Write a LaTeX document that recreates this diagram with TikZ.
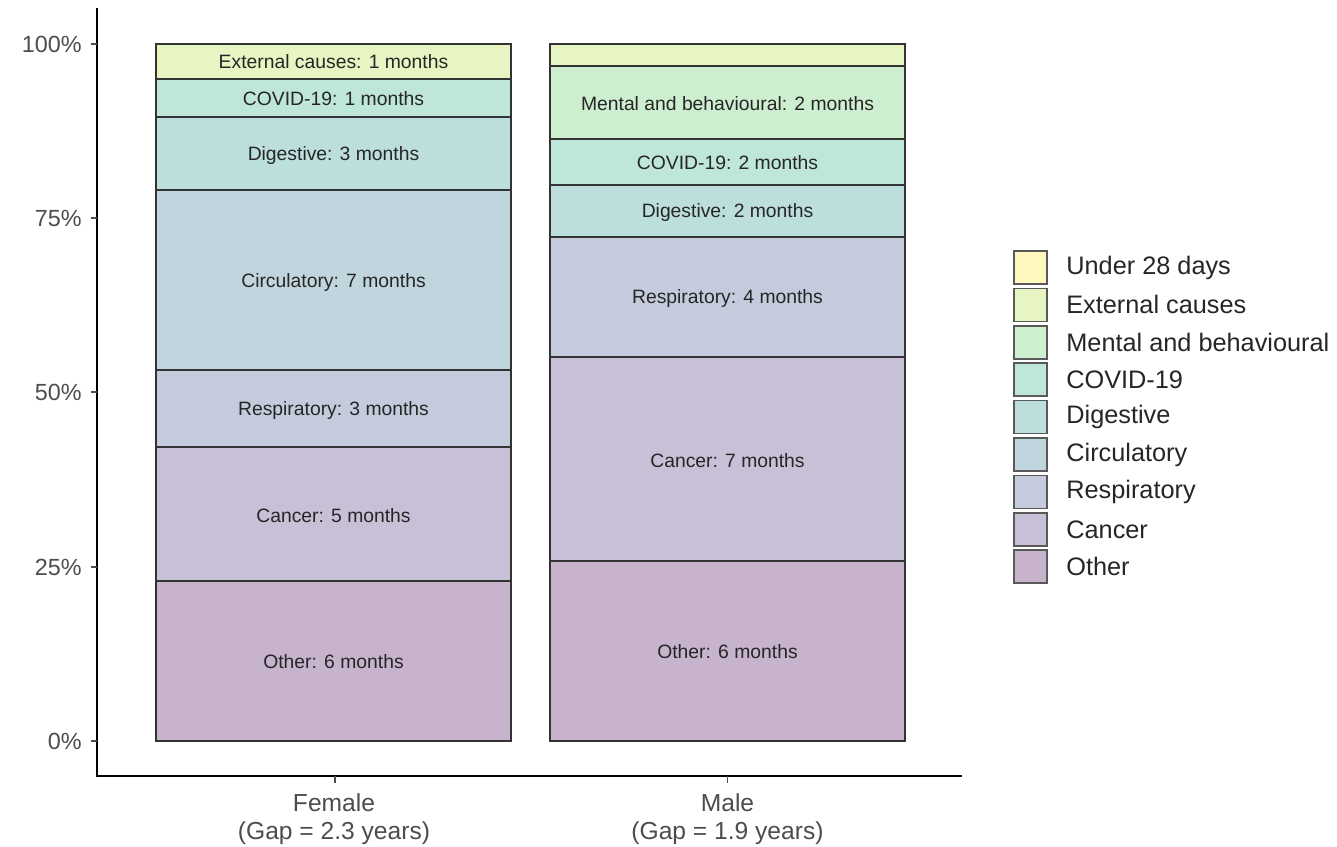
\documentclass[tikz,border=0pt]{standalone}
\usepackage{fontspec}
\setmainfont{Liberation Sans}
\definecolor{cUnder}{HTML}{FEF8BE}
\definecolor{cExt}{HTML}{E6F5C2}
\definecolor{cMent}{HTML}{CEEED0}
\definecolor{cCovid}{HTML}{BEE6D9}
\definecolor{cDig}{HTML}{BCDEDC}
\definecolor{cCirc}{HTML}{C0D5DD}
\definecolor{cResp}{HTML}{C4CBDC}
\definecolor{cCancer}{HTML}{C8C0D7}
\definecolor{cOther}{HTML}{C7B3CC}
\definecolor{axgray}{HTML}{4D4D4D}
\begin{document}
\begin{tikzpicture}[x=0.02cm,y=-0.02cm,
  seg/.style={draw=black!80, line width=0.8pt},
  seglabel/.style={font=\fontsize{11}{13}\selectfont, text=black!85, inner sep=0pt},
  ticklabel/.style={font=\fontsize{13.3}{15}\selectfont, text=axgray, anchor=east, inner sep=0pt},
  xlabel/.style={font=\fontsize{14}{16}\selectfont, text=axgray, align=center, inner sep=0pt},
  axis/.style={draw=black, line width=0.9pt},
  tickmark/.style={draw=axgray, line width=0.8pt},
  legbox/.style={draw=black!65, line width=1pt},
  legtext/.style={font=\fontsize{14.4}{17}\selectfont, text=black!85, anchor=west, inner sep=0pt}]
\useasboundingbox (0,0) rectangle (1337,846);
\fill[white] (0,0) rectangle (1337,846);

% Female bar
\path[seg, fill=cExt]    (156,44)  rectangle (511,79);
\path[seg, fill=cCovid]  (156,79)  rectangle (511,117);
\path[seg, fill=cDig]    (156,117) rectangle (511,190);
\path[seg, fill=cCirc]   (156,190) rectangle (511,370);
\path[seg, fill=cResp]   (156,370) rectangle (511,447);
\path[seg, fill=cCancer] (156,447) rectangle (511,581);
\path[seg, fill=cOther]  (156,581) rectangle (511,741);
\node[seglabel] (fExt)    at (333.5,62)  {External causes: 1 months};
\node[seglabel] (fCovid)  at (333.5,99)  {COVID-19: 1 months};
\node[seglabel] (fDig)    at (333.5,155) {Digestive: 3 months};
\node[seglabel] (fCirc)   at (333.5,282) {Circulatory: 7 months};
\node[seglabel] (fResp)   at (333.5,410) {Respiratory: 3 months};
\node[seglabel] (fCancer) at (333.5,516) {Cancer: 5 months};
\node[seglabel] (fOther)  at (333.5,662) {Other: 6 months};

% Male bar
\path[seg, fill=cExt]    (550,44)  rectangle (905,66);
\path[seg, fill=cMent]   (550,66)  rectangle (905,139);
\path[seg, fill=cCovid]  (550,139) rectangle (905,185);
\path[seg, fill=cDig]    (550,185) rectangle (905,237);
\path[seg, fill=cResp]   (550,237) rectangle (905,357);
\path[seg, fill=cCancer] (550,357) rectangle (905,561);
\path[seg, fill=cOther]  (550,561) rectangle (905,741);
\node[seglabel] (mMent)   at (727.5,104) {Mental and behavioural: 2 months};
\node[seglabel] (mCovid)  at (727.5,163) {COVID-19: 2 months};
\node[seglabel] (mDig)    at (727.5,212) {Digestive: 2 months};
\node[seglabel] (mResp)   at (727.5,298) {Respiratory: 4 months};
\node[seglabel] (mCancer) at (727.5,461) {Cancer: 7 months};
\node[seglabel] (mOther)  at (727.5,652) {Other: 6 months};

% Axes
\coordinate (ytop) at (97,8);
\coordinate (origin) at (97,776);
\coordinate (xend) at (962,776);
\draw[axis] (ytop) -- (origin) -- (xend);
\foreach \yy/\lab in {44/100\%,218/75\%,392/50\%,567/25\%,741/0\%}{
  \draw[tickmark] (91,\yy) -- (97,\yy);
  \node[ticklabel] at (82,\yy) {\lab};
}
\draw[tickmark] (335,776) -- (335,783);
\draw[tickmark] (727.5,776) -- (727.5,783);
\node[xlabel] (xf) at (334,819) {Female\\(Gap = 2.3 years)};
\node[xlabel] (xm) at (727.5,819) {Male\\(Gap = 1.9 years)};

% Legend
\foreach \i/\c/\t in {0/cUnder/Under 28 days,1/cExt/External causes,2/cMent/Mental and behavioural,3/cCovid/COVID-19,4/cDig/Digestive,5/cCirc/Circulatory,6/cResp/Respiratory,7/cCancer/Cancer,8/cOther/Other}{
  \pgfmathsetmacro{\yc}{267.5+\i*37.4}
  \path[legbox, fill=\c] (1014,\yc-16.5) rectangle (1047,\yc+16.5);
  \node[legtext] (leg\i) at (1066,\yc) {\t};
}
\end{tikzpicture}
\end{document}
